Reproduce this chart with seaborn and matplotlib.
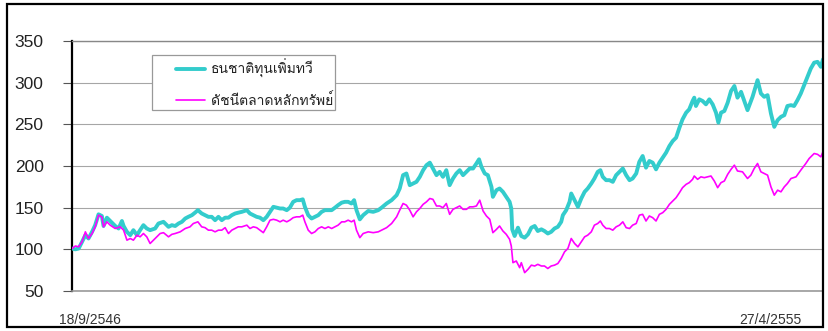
import matplotlib
matplotlib.use("Agg")
import matplotlib.pyplot as plt
import matplotlib.transforms as mtrans
from matplotlib import font_manager, ft2font
from matplotlib.patches import Rectangle
from matplotlib.font_manager import FontProperties
import seaborn as sns

# ---------------- data ----------------
series_names = ["ธนชาติทุนเพิ่มทวี", "ดัชนีตลาดหลักทรัพย์"]
x_tick_labels = ["18/9/2546", "27/4/2555"]
y_ticks = [50, 100, 150, 200, 250, 300, 350]

# days since 18/9/2546
fund_days = [0, 14, 28, 35, 56, 69, 84, 97, 111, 125, 132, 146, 160, 181, 195, 209, 216, 230, 244, 257,
             272, 285, 299, 313, 327, 348, 362, 383, 404, 418, 432, 446, 460, 474, 487, 502, 515, 527, 543, 557,
             571, 585, 599, 613, 627, 641, 655, 669, 683, 696, 711, 732, 745, 759, 773, 787, 801, 815, 829, 843,
             857, 871, 884, 899, 912, 926, 940, 954, 966, 975, 989, 1003, 1017, 1031, 1045, 1059, 1073, 1087, 1101, 1114,
             1129, 1142, 1156, 1170, 1181, 1191, 1205, 1219, 1240, 1261, 1282, 1296, 1317, 1338, 1359, 1372, 1386, 1400, 1414, 1428,
             1442, 1456, 1470, 1484, 1498, 1511, 1526, 1539, 1553, 1567, 1581, 1595, 1609, 1623, 1637, 1651, 1665, 1679, 1693, 1704,
             1714, 1728, 1741, 1756, 1762, 1777, 1790, 1804, 1818, 1832, 1839, 1843, 1853, 1867, 1881, 1895, 1909, 1923, 1937, 1950,
             1965, 1978, 1992, 2006, 2020, 2034, 2048, 2055, 2069, 2083, 2090, 2104, 2118, 2132, 2146, 2159, 2174, 2187, 2201, 2212,
             2222, 2236, 2250, 2264, 2278, 2292, 2306, 2320, 2334, 2347, 2362, 2375, 2389, 2403, 2417, 2431, 2445, 2459, 2473, 2487,
             2501, 2515, 2529, 2543, 2556, 2571, 2584, 2598, 2605, 2612, 2626, 2640, 2654, 2668, 2682, 2696, 2706, 2717, 2731, 2745,
             2759, 2773, 2786, 2801, 2828, 2849, 2870, 2884, 2898, 2912, 2926, 2940, 2954, 2968, 2982, 2995, 3010, 3023, 3037, 3051,
             3065, 3079, 3093, 3107, 3121, 3135, 3144]
fund_values = [101, 100, 101, 105, 117, 113, 121, 129, 142, 140, 128, 138, 134, 128, 125, 134, 128, 121, 117, 123,
               117, 123, 129, 125, 123, 125, 131, 133, 127, 129, 128, 131, 133, 137, 139, 141, 144, 147, 143, 141,
               139, 139, 135, 139, 135, 138, 138, 141, 143, 144, 145, 147, 143, 141, 139, 138, 135, 139, 145, 151,
               150, 149, 149, 147, 150, 157, 159, 159, 160, 151, 141, 137, 139, 141, 145, 147, 147, 147, 150, 153,
               156, 157, 157, 155, 159, 147, 136, 141, 146, 145, 147, 150, 155, 159, 165, 173, 189, 191, 177, 179,
               181, 187, 195, 201, 204, 197, 189, 193, 187, 195, 177, 185, 191, 195, 189, 193, 197, 197, 203, 208,
               199, 191, 189, 175, 163, 171, 173, 169, 163, 157, 149, 124, 116, 126, 116, 114, 118, 126, 128, 122,
               124, 122, 119, 121, 125, 127, 133, 141, 147, 157, 167, 159, 151, 161, 169, 173, 179, 185, 193, 195,
               187, 183, 183, 181, 189, 193, 197, 189, 183, 185, 191, 205, 212, 198, 206, 204, 196, 204, 210, 216,
               224, 230, 234, 246, 256, 264, 268, 278, 282, 272, 280, 278, 274, 280, 274, 264, 252, 264, 266, 276,
               290, 296, 282, 289, 267, 283, 303, 287, 283, 285, 263, 247, 255, 259, 261, 272, 273, 272, 279, 287,
               297, 307, 317, 324, 325, 319, 328]

index_days = [0, 14, 28, 35, 42, 56, 69, 84, 97, 111, 125, 132, 146, 160, 181, 202, 216, 230, 244, 257,
              272, 285, 299, 313, 327, 341, 355, 369, 383, 404, 418, 432, 453, 474, 494, 508, 527, 543, 557, 571,
              585, 599, 613, 627, 641, 655, 669, 683, 696, 711, 732, 745, 759, 773, 787, 801, 815, 829, 843, 857,
              871, 884, 899, 912, 926, 940, 954, 966, 975, 989, 1003, 1017, 1031, 1045, 1059, 1073, 1087, 1101, 1114, 1129,
              1142, 1156, 1170, 1181, 1191, 1205, 1219, 1240, 1261, 1282, 1296, 1317, 1338, 1359, 1372, 1386, 1400, 1414, 1428, 1442,
              1456, 1470, 1484, 1498, 1511, 1526, 1539, 1553, 1567, 1581, 1595, 1609, 1623, 1637, 1651, 1665, 1679, 1693, 1707, 1721,
              1735, 1749, 1762, 1777, 1790, 1804, 1818, 1832, 1839, 1846, 1860, 1874, 1881, 1895, 1909, 1923, 1937, 1950, 1965, 1978,
              1992, 2006, 2020, 2034, 2048, 2062, 2076, 2090, 2104, 2118, 2132, 2146, 2159, 2174, 2187, 2201, 2212, 2222, 2236, 2250,
              2264, 2278, 2292, 2306, 2320, 2334, 2347, 2362, 2375, 2389, 2403, 2417, 2431, 2445, 2459, 2473, 2487, 2501, 2515, 2529,
              2543, 2556, 2571, 2584, 2598, 2605, 2619, 2633, 2647, 2661, 2675, 2689, 2703, 2717, 2731, 2745, 2759, 2773, 2786, 2807,
              2828, 2842, 2856, 2870, 2884, 2898, 2912, 2926, 2940, 2954, 2968, 2982, 2995, 3010, 3031, 3051, 3072, 3086, 3107, 3121,
              3135, 3144]
index_values = [101, 104, 103, 106, 109, 121, 113, 119, 127, 141, 139, 127, 133, 129, 125, 127, 123, 111, 113, 111,
                117, 115, 119, 115, 107, 111, 115, 119, 120, 115, 118, 119, 121, 125, 127, 131, 133, 127, 126, 123,
                123, 121, 123, 123, 126, 119, 123, 125, 127, 127, 129, 125, 127, 126, 123, 120, 127, 135, 136, 135,
                133, 135, 133, 135, 138, 139, 139, 141, 133, 123, 119, 121, 125, 127, 125, 127, 125, 127, 129, 133,
                133, 135, 133, 135, 123, 114, 119, 121, 120, 121, 123, 126, 131, 139, 147, 155, 153, 147, 139, 145,
                149, 154, 157, 161, 160, 152, 152, 150, 155, 142, 148, 150, 152, 148, 148, 151, 151, 152, 159, 146,
                140, 136, 120, 124, 128, 122, 118, 112, 104, 84, 86, 78, 84, 72, 76, 81, 80, 82, 80, 80,
                77, 80, 81, 83, 89, 97, 101, 113, 107, 103, 109, 115, 117, 121, 129, 131, 134, 129, 125, 125,
                123, 127, 129, 133, 126, 125, 129, 131, 141, 142, 134, 140, 138, 134, 142, 144, 148, 154, 158, 162,
                168, 174, 178, 180, 184, 188, 184, 187, 186, 187, 188, 182, 174, 180, 182, 190, 196, 201, 194, 193,
                185, 189, 197, 203, 193, 191, 189, 175, 165, 171, 169, 175, 179, 185, 187, 195, 203, 209, 215, 214,
                211, 217]


def find_thai_font():
    for f in font_manager.fontManager.ttflist:
        try:
            cmap = ft2font.FT2Font(f.fname).get_charmap()
        except Exception:
            continue
        if 0x0E18 in cmap and 0x0E4C in cmap and 0x0E1E in cmap:
            return f.name
    return "DejaVu Sans"


sns.set_style("white")
thai_font = find_thai_font()
plt.rcParams["font.family"] = ["Liberation Sans", thai_font, "DejaVu Sans"]

W, H = 829, 331
fig = plt.figure(figsize=(W / 100, H / 100), dpi=100)
fig.patch.set_facecolor("white")
ax = fig.add_axes([72 / W, 1 - 291 / H, (823 - 72) / W, 250 / H])

sns.lineplot(x=fund_days, y=fund_values, ax=ax, color="#33CCCC", linewidth=2.8,
             label=series_names[0], zorder=3)
sns.lineplot(x=index_days, y=index_values, ax=ax, color="#FF00FF", linewidth=1.2,
             label=series_names[1], zorder=4)

ax.set_xlim(fund_days[0], fund_days[-1])
ax.set_ylim(y_ticks[0], y_ticks[-1])
ax.set_yticks(y_ticks)
ax.set_yticklabels([str(v) for v in y_ticks])
ax.set_xlabel("")
ax.set_ylabel("")
ax.tick_params(axis="y", length=6.5, width=0.8, color="#555555", pad=14,
               labelsize=12.5, labelcolor="#222222", left=True)
ax.grid(axis="y", color="#a6a6a6", linewidth=0.8)
ax.grid(axis="x", visible=False)
ax.set_axisbelow(True)

for side, col, lw in [("left", "black", 1.6), ("bottom", "#999999", 1.2), ("top", "#888888", 1.0)]:
    ax.spines[side].set_visible(True)
    ax.spines[side].set_color(col)
    ax.spines[side].set_linewidth(lw)
ax.spines["right"].set_visible(False)

ax.set_xticks([fund_days[0], fund_days[-1]])
ax.set_xticklabels(x_tick_labels)
ax.tick_params(axis="x", length=0, pad=16, labelsize=10, labelcolor="#333333", bottom=True)
lbls = ax.get_xticklabels()
lbls[0].set_ha("left")
lbls[0].set_transform(lbls[0].get_transform() + mtrans.ScaledTranslation(-13 / 100, 0, fig.dpi_scale_trans))
lbls[1].set_ha("right")
lbls[1].set_transform(lbls[1].get_transform() + mtrans.ScaledTranslation(-21 / 100, 0, fig.dpi_scale_trans))

# legend box
x0, x1 = 72, 823
ax.add_patch(Rectangle(((152 - x0) / (x1 - x0), (291 - 110) / 250),
                       (335 - 152) / (x1 - x0), (110 - 55) / 250,
                       transform=ax.transAxes, facecolor="white", edgecolor="#999999",
                       linewidth=0.9, zorder=5))
leg = ax.legend(loc="upper left", bbox_to_anchor=((176 - x0) / (x1 - x0), (291 - 59) / 250),
                frameon=False, prop=FontProperties(family=[thai_font, "DejaVu Sans"], size=10),
                handlelength=2.1, handletextpad=0.45, labelspacing=1.05,
                borderpad=0, borderaxespad=0)
leg.set_zorder(6)
for t in leg.get_texts():
    t.set_color("#222222")

fig.add_artist(Rectangle((7.5 / W, 4 / H), (823.5 - 7.5) / W, (327 - 4) / H,
                         transform=fig.transFigure, fill=False, edgecolor="black",
                         linewidth=1.6, zorder=10))

fig.savefig("out.png", dpi=100, facecolor="white")
